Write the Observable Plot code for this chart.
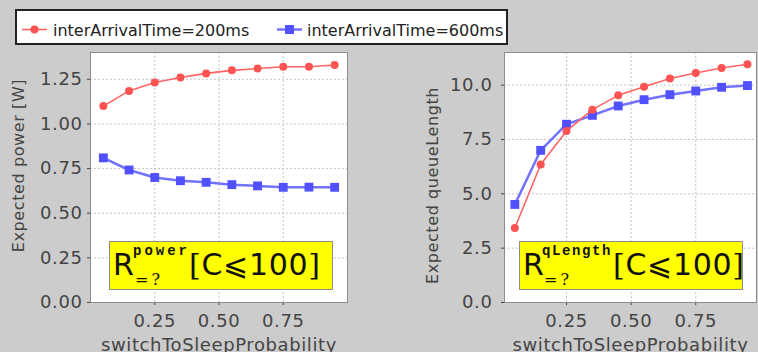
<!DOCTYPE html>
<html>
<head>
<meta charset="utf-8">
<script src="https://cdn.jsdelivr.net/npm/d3@7"></script>
<script src="https://cdn.jsdelivr.net/npm/@observablehq/plot@0.6"></script>
<style>
  html, body { margin: 0; padding: 0; background: #cccccc; }
  #root { position: relative; width: 758px; height: 352px; overflow: hidden; background: #cccccc; font-family: "DejaVu Sans", sans-serif; }
  .panel { position: absolute; top: 0; }
  .legend, .ann { position: absolute; }
</style>
</head>
<body>
<div id="root"></div>
<script>
// ---- data ----
const switchToSleepProbability = [0.05, 0.15, 0.25, 0.35, 0.45, 0.55, 0.65, 0.75, 0.85, 0.95];
const seriesNames = ["interArrivalTime=200ms", "interArrivalTime=600ms"];
const power200 = [1.10, 1.185, 1.232, 1.26, 1.283, 1.30, 1.31, 1.32, 1.32, 1.33];
const power600 = [0.81, 0.742, 0.70, 0.682, 0.673, 0.66, 0.653, 0.645, 0.646, 0.645];
const qLength200 = [3.43, 6.35, 7.89, 8.87, 9.53, 9.92, 10.30, 10.56, 10.79, 10.96];
const qLength600 = [4.51, 7.00, 8.20, 8.61, 9.04, 9.33, 9.56, 9.73, 9.90, 9.98];
const xTicks = [0.25, 0.50, 0.75];
const powerTicks = [0, 0.25, 0.5, 0.75, 1.0, 1.25];
const qLengthTicks = [0, 2.5, 5.0, 7.5, 10.0];
const xLabel = "switchToSleepProbability";

const RED = "#ff5252", RED_LINE = "#ff6464";
const BLUE = "#5050ff", BLUE_LINE = "#7272ff";

function rows(vals) { return switchToSleepProbability.map((p, i) => ({p, v: vals[i]})); }

function panel(o) {
  const r200 = rows(o.s200), r600 = rows(o.s600);
  return Plot.plot({
    width: o.width, height: 352,
    marginLeft: o.marginLeft, marginRight: o.marginRight, marginTop: 52, marginBottom: 50,
    style: {background: "transparent", fontSize: "18px", fontFamily: "DejaVu Sans", letterSpacing: "0.6px", overflow: "visible"},
    x: {domain: o.xDomain},
    y: {domain: o.yDomain},
    marks: [
      Plot.frame({fill: "white", stroke: "none"}),
      Plot.gridY({ticks: o.yTicks, stroke: "#c4c4c4", strokeOpacity: 1, strokeDasharray: "2,2"}),
      Plot.gridX({ticks: xTicks, stroke: "#c4c4c4", strokeOpacity: 1, strokeDasharray: "2,2"}),
      Plot.axisY({ticks: o.yTicks, tickFormat: o.yFmt, tickSize: 3, tickPadding: o.tickPadY, label: null, color: "#444"}),
      Plot.axisX({ticks: xTicks, tickFormat: d => d.toFixed(2), tickSize: 3, tickPadding: 9, label: null, color: "#444"}),
      Plot.line(r600, {x: "p", y: "v", stroke: BLUE_LINE, strokeWidth: 2.5}),
      Plot.dot(r600, {x: "p", y: "v", symbol: "square", r: 5, fill: BLUE, stroke: "none"}),
      Plot.line(r200, {x: "p", y: "v", stroke: RED_LINE, strokeWidth: 1.6}),
      Plot.dot(r200, {x: "p", y: "v", r: 4, fill: RED, stroke: "none"}),
      Plot.frame({stroke: "#8c8c8c"}),
      Plot.text([xLabel], {text: d => d, frameAnchor: "bottom", textAnchor: "middle", lineAnchor: "middle", dy: 43, fill: "#444", fontSize: 18}),
      Plot.text([o.yLabel], {text: d => d, frameAnchor: "left", textAnchor: "middle", lineAnchor: "middle", rotate: -90, dx: o.yLabelDx, dy: o.yLabelDy, fill: "#444", fontSize: 16})
    ]
  });
}

const root = document.getElementById("root");

const left = panel({
  width: 380, marginLeft: 90, marginRight: 33,
  xDomain: [0, 1], yDomain: [0, 1.4],
  yTicks: powerTicks, yFmt: d => d.toFixed(2), tickPadY: 5,
  s200: power200, s600: power600,
  yLabel: "Expected power [W]", yLabelDx: -71.5, yLabelDy: -12
});
left.classList.add("panel"); left.style.left = "0px";
root.appendChild(left);

const right = panel({
  width: 378, marginLeft: 124, marginRight: 2,
  xDomain: [0.01, 0.985], yDomain: [0, 11.5],
  yTicks: qLengthTicks, yFmt: d => d.toFixed(1), tickPadY: 9,
  s200: qLength200, s600: qLength600,
  yLabel: "Expected queueLength", yLabelDx: -72, yLabelDy: 8
});
right.classList.add("panel"); right.style.left = "380px";
root.appendChild(right);

// ---- legend ----
const legend = document.createElement("div");
legend.className = "legend";
legend.style.left = "15px"; legend.style.top = "9px";
legend.innerHTML = `
<svg width="494" height="37" xmlns="http://www.w3.org/2000/svg" style="display:block">
  <rect x="1" y="1" width="491" height="34" fill="white" stroke="#222" stroke-width="2"/>
  <line x1="7" x2="32" y1="20.5" y2="20.5" stroke="${RED_LINE}" stroke-width="1.6"/>
  <circle cx="19.5" cy="20.5" r="4" fill="${RED}"/>
  <text x="38" y="27" font-family="DejaVu Sans" font-size="16" fill="#222">${seriesNames[0]}</text>
  <line x1="262" x2="287" y1="20.5" y2="20.5" stroke="${BLUE_LINE}" stroke-width="2.5"/>
  <rect x="270" y="16" width="9" height="9" fill="${BLUE}"/>
  <text x="292" y="27" font-family="DejaVu Sans" font-size="16" fill="#222">${seriesNames[1]}</text>
</svg>`;
root.appendChild(legend);

// ---- formula annotations ----
function annotation(leftPx, sup, supLs, subX, brX) {
  const d = document.createElement("div");
  d.className = "ann";
  d.style.left = leftPx + "px"; d.style.top = "241px";
  d.innerHTML = `
<svg width="225" height="49" xmlns="http://www.w3.org/2000/svg" style="display:block">
  <rect x="0.5" y="0.5" width="223" height="48" fill="#ffff00" stroke="#8c8c8c" stroke-width="1"/>
  <text x="4" y="34" font-family="DejaVu Sans" font-size="30" fill="#111">R</text>
  <text x="${subX - 2}" y="14" font-family="Liberation Mono" font-weight="bold" font-size="14" letter-spacing="${supLs}" fill="#111">${sup}</text>
  <text x="${subX}" y="44" font-family="DejaVu Serif" font-size="16" letter-spacing="3" fill="#111">=?</text>
  <text x="${brX}" y="34" font-size="30" fill="#111" letter-spacing="0.7"><tspan font-family="DejaVu Serif">[</tspan><tspan font-family="DejaVu Sans">C⩽100</tspan><tspan font-family="DejaVu Serif">]</tspan></text>
</svg>`;
  root.appendChild(d);
}
annotation(109, "power", 3, 26, 80);
annotation(519, "qLength", 1.6, 25, 94);
</script>
</body>
</html>
